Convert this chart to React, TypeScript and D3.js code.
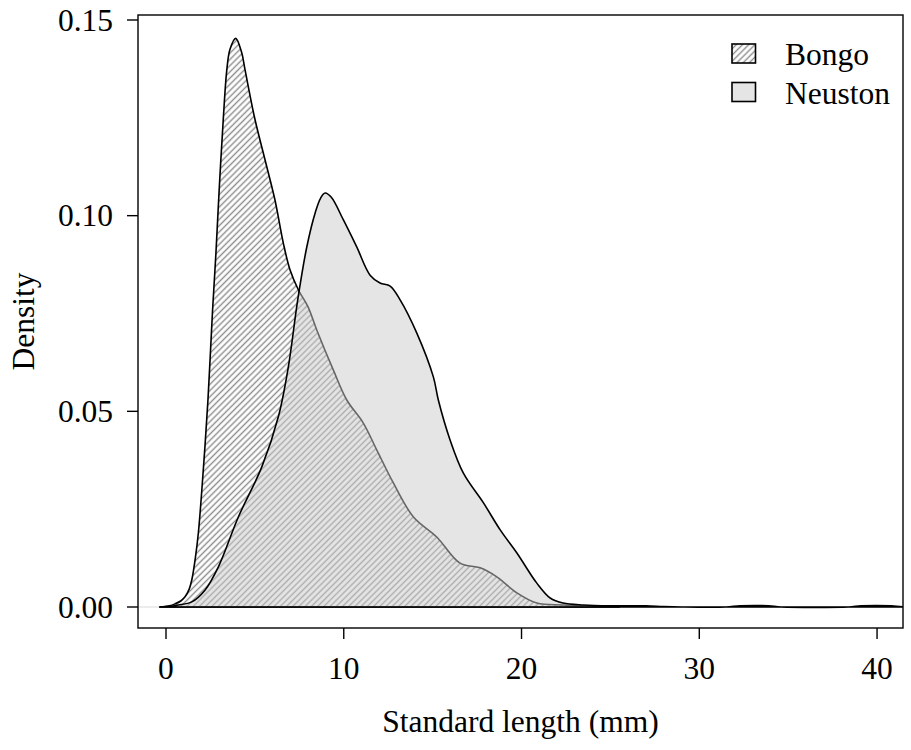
import React from "react";
import * as d3 from "d3";

const bongoX = [-0.35, 0.2, 0.51, 0.85, 1.07, 1.3, 1.45, 1.65, 1.82, 2.11, 2.36, 2.62, 2.81, 3.0, 3.22, 3.42, 3.6, 3.92, 4.25, 4.45, 5.01, 5.57, 6.13, 6.6, 6.98, 7.45, 7.99, 8.48, 9.41, 10.17, 11.1, 11.86, 12.79, 13.92, 15.23, 16.54, 17.67, 18.61, 19.74, 20.86, 22.34, 24.0, 25.5];
const bongoY = [0, 0.0003, 0.0008, 0.0016, 0.0026, 0.0045, 0.0069, 0.0125, 0.0189, 0.0358, 0.0529, 0.0759, 0.0905, 0.1073, 0.1245, 0.1372, 0.1425, 0.1453, 0.1418, 0.1372, 0.1245, 0.1143, 0.104, 0.093, 0.0861, 0.081, 0.0767, 0.0708, 0.0606, 0.0529, 0.047, 0.0401, 0.0317, 0.023, 0.0179, 0.0112, 0.01, 0.0077, 0.0036, 0.001, 0.0005, 0.0002, 0];

const neustonX = [-0.35, 0.3, 0.69, 1.45, 2.19, 2.94, 4.07, 5.39, 6.32, 6.88, 7.41, 7.92, 8.39, 8.7, 8.95, 9.3, 9.98, 10.73, 11.48, 12.04, 12.61, 13.17, 14.11, 15.04, 15.32, 15.98, 16.73, 17.86, 18.8, 19.74, 20.86, 21.61, 22.34, 23.5, 25, 27, 28, 29, 31.5, 32.3, 33.9, 34.6, 38.4, 39.1, 40.8, 41.5];
const neustonY = [0, 0.0002, 0.0005, 0.0013, 0.0043, 0.0102, 0.023, 0.0358, 0.0486, 0.0613, 0.0785, 0.092, 0.1007, 0.1045, 0.1058, 0.1047, 0.0989, 0.092, 0.0848, 0.0828, 0.082, 0.0785, 0.07, 0.0588, 0.0529, 0.0427, 0.0342, 0.0266, 0.0197, 0.0138, 0.0061, 0.0023, 0.001, 0.0005, 0.0003, 0.0003, 0.0001, 0, 0, 0.0003, 0.0003, 0, 0, 0.0003, 0.0003, 0];

const xTicks = [0, 10, 20, 30, 40];
const yTicks = [0, 0.05, 0.1, 0.15];
const legendLabels = ["Bongo", "Neuston"];

const W = 911;
const H = 750;
const L = 138, R = 903, T = 15, B = 628;
const FONT = "'Liberation Serif', 'Times New Roman', serif";
const FS = 31.5;

export default function App() {
  const x = d3.scaleLinear().domain([-1.575, 41.46]).range([L, R]);
  const y = d3.scaleLinear().domain([0, 0.15]).range([607, 20]);

  const bongo: [number, number][] = bongoX.map((v, i) => [v, bongoY[i]]);
  const neuston: [number, number][] = neustonX.map((v, i) => [v, neustonY[i]]);

  const line = d3
    .line<[number, number]>()
    .x((d) => x(d[0]))
    .y((d) => Math.min(y(0), y(d[1])))
    .curve(d3.curveCatmullRom.alpha(0.5));

  const closed = (pts: [number, number][]) => {
    const p = line(pts) || "";
    return p + `L${x(pts[pts.length - 1][0])},${y(0)}L${x(pts[0][0])},${y(0)}Z`;
  };

  return (
    <svg width={W} height={H} style={{ display: "block", position: "absolute", left: 0, top: 0 }}>
      <defs>
        <pattern id="hatch" patternUnits="userSpaceOnUse" width={4.4} height={10} patternTransform="rotate(45)">
          <rect width={4.4} height={10} fill="white" />
          <line x1={2.2} y1={0} x2={2.2} y2={10} stroke="#8c8c8c" strokeWidth={1.4} />
        </pattern>
        <clipPath id="plotclip">
          <rect x={L} y={T} width={R - L} height={B - T} />
        </clipPath>
        <clipPath id="aboveZero">
          <rect x={L} y={T} width={R - L} height={y(0) - T} />
        </clipPath>
      </defs>
      <rect width={W} height={H} fill="white" />
      <g clipPath="url(#plotclip)">
        <line x1={L} x2={R} y1={y(0)} y2={y(0)} stroke="#d9d9d9" strokeWidth={1} />
        <g clipPath="url(#aboveZero)">
          <path d={closed(bongo)} fill="url(#hatch)" />
        </g>
        <path d={closed(bongo)} fill="none" stroke="black" strokeWidth={1.6} strokeLinejoin="round" />
        <path d={closed(neuston)} fill="rgba(203,203,203,0.5)" stroke="black" strokeWidth={1.6} strokeLinejoin="round" />
      </g>
      <rect x={L} y={T} width={R - L} height={B - T} fill="none" stroke="black" strokeWidth={1.4} />
      {xTicks.map((t) => (
        <g key={"x" + t}>
          <line x1={x(t)} x2={x(t)} y1={B} y2={B + 11} stroke="black" strokeWidth={1.4} />
          <text x={x(t)} y={679} textAnchor="middle" fontFamily={FONT} fontSize={FS}>
            {t}
          </text>
        </g>
      ))}
      {yTicks.map((t) => (
        <g key={"y" + t}>
          <line x1={L - 11} x2={L} y1={y(t)} y2={y(t)} stroke="black" strokeWidth={1.4} />
          <text x={113} y={y(t) + 10.5} textAnchor="end" fontFamily={FONT} fontSize={FS}>
            {t.toFixed(2)}
          </text>
        </g>
      ))}
      <text x={(L + R) / 2} y={732} textAnchor="middle" fontFamily={FONT} fontSize={FS}>
        Standard length (mm)
      </text>
      <text transform={`translate(34,${(T + B) / 2}) rotate(-90)`} textAnchor="middle" fontFamily={FONT} fontSize={FS}>
        Density
      </text>
      {legendLabels.map((lab, i) => (
        <g key={lab}>
          <rect
            x={732}
            y={44 + i * 38.5}
            width={23.5}
            height={19}
            fill={i === 0 ? "url(#hatch)" : "#e5e5e5"}
            stroke="black"
            strokeWidth={1.6}
          />
          <text x={785} y={65 + i * 38.5} fontFamily={FONT} fontSize={FS}>
            {lab}
          </text>
        </g>
      ))}
    </svg>
  );
}
